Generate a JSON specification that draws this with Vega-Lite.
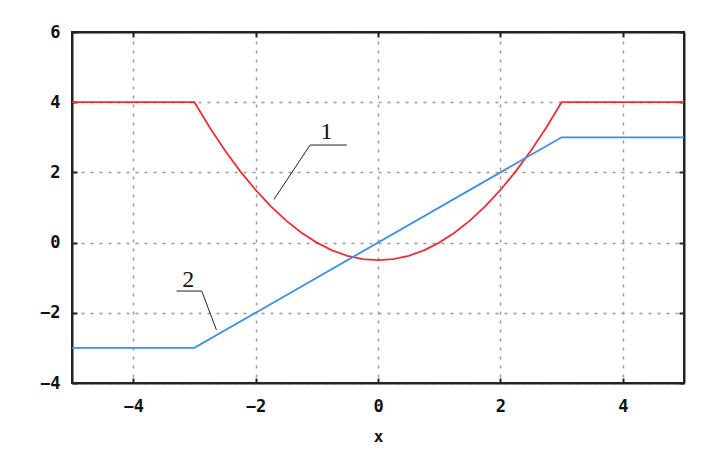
{
  "$schema": "https://vega.github.io/schema/vega-lite/v6.json",
  "width": 612,
  "height": 351,
  "autosize": "none",
  "padding": {"left": 72, "top": 32, "right": 28, "bottom": 70},
  "background": "white",
  "config": {
    "view": {"stroke": "#222", "strokeWidth": 2},
    "axis": {
      "labelFont": "DejaVu Sans Mono",
      "labelFontWeight": "bold",
      "labelFontSize": 17,
      "labelColor": "#111",
      "titleFont": "DejaVu Sans Mono",
      "titleFontWeight": "bold",
      "titleFontSize": 16,
      "titleColor": "#111",
      "domainColor": "#222",
      "domainWidth": 2,
      "tickColor": "#222",
      "tickWidth": 2,
      "tickSize": -5,
      "gridColor": "#999",
      "gridDash": [3, 6],
      "gridWidth": 1.5,
      "gridOpacity": 1
    }
  },
  "datasets": {
    "curves": [
      {"x": -5, "y": 4, "s": "1"}, {"x": -4, "y": 4, "s": "1"}, {"x": -3, "y": 4, "s": "1"},
      {"x": -2.75, "y": 3.28, "s": "1"}, {"x": -2.5, "y": 2.625, "s": "1"}, {"x": -2.25, "y": 2.03, "s": "1"},
      {"x": -2, "y": 1.5, "s": "1"}, {"x": -1.75, "y": 1.03, "s": "1"}, {"x": -1.5, "y": 0.625, "s": "1"},
      {"x": -1.25, "y": 0.28, "s": "1"}, {"x": -1, "y": 0, "s": "1"}, {"x": -0.75, "y": -0.22, "s": "1"},
      {"x": -0.5, "y": -0.375, "s": "1"}, {"x": -0.25, "y": -0.47, "s": "1"}, {"x": 0, "y": -0.5, "s": "1"},
      {"x": 0.25, "y": -0.47, "s": "1"}, {"x": 0.5, "y": -0.375, "s": "1"}, {"x": 0.75, "y": -0.22, "s": "1"},
      {"x": 1, "y": 0, "s": "1"}, {"x": 1.25, "y": 0.28, "s": "1"}, {"x": 1.5, "y": 0.625, "s": "1"},
      {"x": 1.75, "y": 1.03, "s": "1"}, {"x": 2, "y": 1.5, "s": "1"}, {"x": 2.25, "y": 2.03, "s": "1"},
      {"x": 2.5, "y": 2.625, "s": "1"}, {"x": 2.75, "y": 3.28, "s": "1"}, {"x": 3, "y": 4, "s": "1"},
      {"x": 4, "y": 4, "s": "1"}, {"x": 5, "y": 4, "s": "1"},
      {"x": -5, "y": -3, "s": "2"}, {"x": -3, "y": -3, "s": "2"}, {"x": 3, "y": 3, "s": "2"}, {"x": 5, "y": 3, "s": "2"}
    ],
    "leaders": [
      {"x": -0.51, "y": 2.78, "g": "1", "o": 1}, {"x": -1.11, "y": 2.78, "g": "1", "o": 2}, {"x": -1.70, "y": 1.23, "g": "1", "o": 3},
      {"x": -3.29, "y": -1.38, "g": "2", "o": 1}, {"x": -2.88, "y": -1.38, "g": "2", "o": 2}, {"x": -2.64, "y": -2.49, "g": "2", "o": 3}
    ],
    "labels": [
      {"x": -0.84, "y": 3.16, "t": "1"},
      {"x": -3.10, "y": -1.07, "t": "2"}
    ]
  },
  "layer": [
    {
      "data": {"name": "curves"},
      "mark": {"type": "line", "strokeWidth": 1.8},
      "encoding": {
        "x": {"field": "x", "type": "quantitative", "scale": {"domain": [-5, 5], "nice": false},
              "axis": {"orient": "bottom", "values": [-4, -2, 0, 2, 4], "title": "x", "labelPadding": 20, "titlePadding": 14}},
        "y": {"field": "y", "type": "quantitative", "scale": {"domain": [-4, 6], "nice": false},
              "axis": {"orient": "left", "values": [-4, -2, 0, 2, 4, 6], "title": null, "labelPadding": 17}},
        "color": {"field": "s", "type": "nominal", "scale": {"domain": ["1", "2"], "range": ["#e8323a", "#3d8fe6"]}, "legend": null}
      }
    },
    {
      "data": {"name": "leaders"},
      "mark": {"type": "line", "color": "#222", "strokeWidth": 1},
      "encoding": {
        "x": {"field": "x", "type": "quantitative", "axis": {"orient": "top", "values": [-4, -2, 0, 2, 4], "labels": false, "grid": false, "title": null}},
        "y": {"field": "y", "type": "quantitative", "axis": {"orient": "right", "values": [-4, -2, 0, 2, 4, 6], "labels": false, "grid": false, "title": null}},
        "detail": {"field": "g"},
        "order": {"field": "o"}
      }
    },
    {
      "data": {"name": "labels"},
      "mark": {"type": "text", "font": "Liberation Serif", "fontSize": 24, "color": "#111"},
      "encoding": {
        "x": {"field": "x", "type": "quantitative", "axis": null},
        "y": {"field": "y", "type": "quantitative", "axis": null},
        "text": {"field": "t"}
      }
    }
  ],
  "resolve": {"axis": {"x": "independent", "y": "independent"}}
}
